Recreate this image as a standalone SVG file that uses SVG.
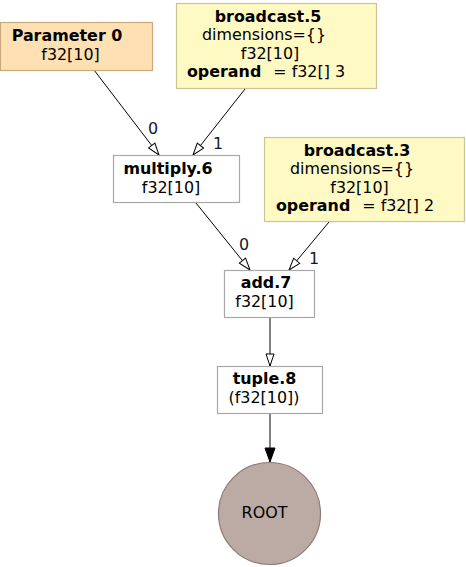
<svg xmlns="http://www.w3.org/2000/svg" width="466" height="567" viewBox="0 0 466 567">
<style>
text{font-family:"DejaVu Sans","Liberation Sans",sans-serif;font-size:15.9px;fill:#000;text-anchor:middle}
.b{font-weight:bold}
.lbl{fill:#101830}
.e{fill:none;stroke:#000;stroke-width:1}
.w{fill:#fff;stroke:#a8a8a8;stroke-width:1.2}
.y{fill:#fff9c4;stroke:#cbc593;stroke-width:1.2}
</style>
<defs>
<marker id="open" markerUnits="userSpaceOnUse" markerWidth="14" markerHeight="12" refX="13" refY="5" orient="auto" viewBox="0 0 14 10">
<path d="M1,1 L13,5 L1,9 Z" fill="#fff" stroke="#000" stroke-width="1"/>
</marker>
<marker id="fill" markerUnits="userSpaceOnUse" markerWidth="16" markerHeight="12" refX="15" refY="5.5" orient="auto" viewBox="0 0 16 11">
<path d="M1,0.5 L15,5.5 L1,10.5 Z" fill="#000" stroke="#000" stroke-width="1"/>
</marker>
</defs>
<g id="edges">
<path class="e" d="M94,70 L159,155" marker-end="url(#open)"/>
<path class="e" d="M245,89 L193,155" marker-end="url(#open)"/>
<path class="e" d="M196,203 L250,270" marker-end="url(#open)"/>
<path class="e" d="M329,222 L289,270" marker-end="url(#open)"/>
<path class="e" d="M270,318 L270,366" marker-end="url(#open)"/>
<path class="e" d="M270,414 L270,462" marker-end="url(#fill)"/>
<text class="lbl" x="153" y="134">0</text>
<text class="lbl" x="218" y="149">1</text>
<text class="lbl" x="244" y="250">0</text>
<text class="lbl" x="314" y="264">1</text>
</g>
<g id="param0">
<rect x="0.5" y="22.5" width="152" height="48" fill="#ffe0b2" stroke="#c9a97b" stroke-width="1.2"/>
<text class="b" x="67" y="41">Parameter 0</text>
<text x="70.5" y="59.5">f32[10]</text>
</g>
<g id="broadcast5">
<rect class="y" x="176.5" y="3.5" width="200" height="85"/>
<text class="b" x="268" y="21.5">broadcast.5</text>
<text x="264" y="40">dimensions={}</text>
<text x="270" y="58.5">f32[10]</text>
<text x="266" y="77"><tspan class="b">operand</tspan><tspan dx="12">= f32[] 3</tspan></text>
</g>
<g id="multiply6">
<rect class="w" x="113.5" y="155.5" width="126" height="47"/>
<text class="b" x="168" y="174">multiply.6</text>
<text x="171" y="193">f32[10]</text>
</g>
<g id="broadcast3">
<rect class="y" x="264.5" y="137.5" width="200" height="84"/>
<text class="b" x="357" y="155.5">broadcast.3</text>
<text x="352" y="174">dimensions={}</text>
<text x="359.5" y="192.5">f32[10]</text>
<text x="355" y="211"><tspan class="b">operand</tspan><tspan dx="12">= f32[] 2</tspan></text>
</g>
<g id="add7">
<rect class="w" x="224.5" y="270.5" width="90" height="47"/>
<text class="b" x="266" y="288">add.7</text>
<text x="264.5" y="306.5">f32[10]</text>
</g>
<g id="tuple8">
<rect class="w" x="217.5" y="366.5" width="105" height="47"/>
<text class="b" x="264.5" y="384">tuple.8</text>
<text x="264" y="402.5">(f32[10])</text>
</g>
<g id="root">
<circle cx="269.5" cy="513.5" r="51" fill="#bcaaa4" stroke="#8c7b75" stroke-width="1.2"/>
<text x="264.5" y="517.5">ROOT</text>
</g>
</svg>
